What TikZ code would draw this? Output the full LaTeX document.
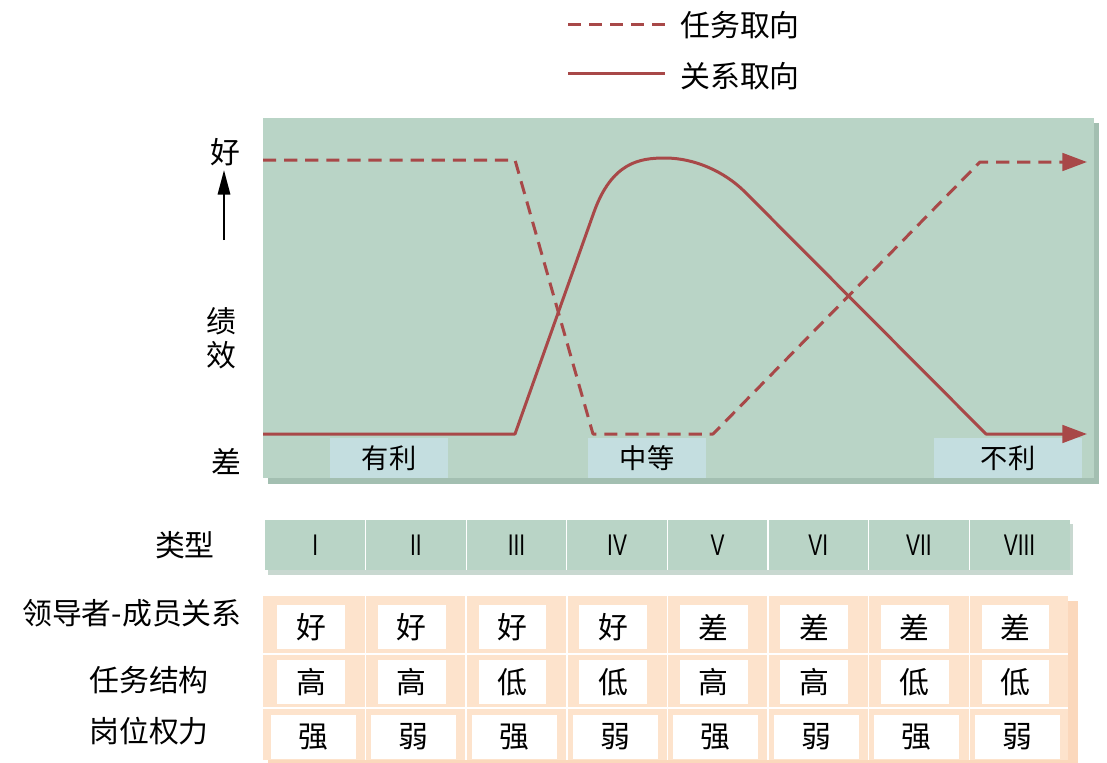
\documentclass[tikz,border=0pt]{standalone}
\usepackage{fontspec}
\setmainfont{Noto Sans CJK SC}
\newfontfamily\romfont[FakeStretch=0.7]{Liberation Sans}
\usetikzlibrary{arrows.meta}

\definecolor{chartgreen}{HTML}{B9D4C6}
\definecolor{chartshade}{HTML}{A3BFB1}
\definecolor{zoneblue}{HTML}{C4DEE0}
\definecolor{curve}{HTML}{A84848}
\definecolor{peach}{HTML}{FDE3CC}
\definecolor{peachshade}{HTML}{FBD8BC}

\begin{document}
\begin{tikzpicture}[x=0.02cm,y=-0.02cm,
  perf/.style={line width=1.7pt,draw=curve,line join=round},
  task/.style={perf,dash pattern=on 7.5pt off 4.5pt},
  tip/.style={-{Triangle[length=14pt,width=10pt]}},
  zone/.style={fill=zoneblue,inner sep=0pt,minimum width=#1,minimum height=0.8cm,font=\fontsize{15.5}{15.5}\selectfont},
  axislabel/.style={font=\fontsize{17}{17}\selectfont,inner sep=0pt},
  typecell/.style={fill=chartgreen,minimum width=2.012cm,minimum height=1cm,inner sep=0pt,font=\romfont\fontsize{17}{17}\selectfont},
  valbox/.style={fill=white,inner sep=0pt,minimum width=#1,minimum height=0.88cm,font=\fontsize{17}{17}\selectfont}]
  \useasboundingbox (0,0) rectangle (1107,762);

  % legend
  \coordinate (la) at (568,24);
  \coordinate (lb) at (665,24);
  \coordinate (lc) at (568,73);
  \coordinate (ld) at (665,73);
  \node[axislabel,anchor=west] (legtask) at (680,25) {任务取向};
  \node[axislabel,anchor=west] (legrel) at (680,76) {关系取向};
  \draw[task] (la) -- (lb);
  \draw[perf] (lc) -- (ld);

  % chart area
  \fill[chartshade] (268,123) rectangle (1099,484);
  \fill[chartgreen] (263,118) rectangle (1094,478);
  \node[zone=2.36cm] (fav) at (389,458) {有利};
  \node[zone=2.38cm] (mid) at (647,458) {中等};
  \node[zone=2.96cm] (unfav) at (1008,458) {不利};

  % axis
  \node[axislabel] (good) at (225,152) {好};
  \node[axislabel] (ji) at (221,321) {绩};
  \node[axislabel] (xiao) at (221,355) {效};
  \node[axislabel] (bad) at (226,461) {差};
  \coordinate (ax0) at (224,240);
  \coordinate (ax1) at (224,170);
  \draw[line width=1.3pt,-{Triangle[length=14pt,width=7pt]}] (ax0) -- (ax1);

  % task orientation
  \coordinate (t0) at (263,160);
  \coordinate (t1) at (515,160);
  \coordinate (t2) at (593,434);
  \coordinate (t3) at (713,434);
  \coordinate (t4) at (980,162);
  \coordinate (t5) at (1087,162);
  \draw[task,tip] (t0) -- (t1) -- (t2) -- (t3) -- (t4) -- (t5);

  % relationship orientation
  \coordinate (r0) at (263,434);
  \coordinate (r1) at (515,434);
  \coordinate (r2) at (594,212);
  \coordinate (r3) at (665,158);
  \coordinate (r4) at (745,192);
  \coordinate (r5) at (986,434);
  \coordinate (r6) at (1087,434);
  \draw[perf,tip] (r0) -- (r1) -- (r2)
    .. controls (612,162) and (640,158) .. (r3)
    .. controls (695,158) and (725,172) .. (r4) -- (r5) -- (r6);

  % types
  \node[axislabel] (typelabel) at (185,545) {类型};
  \fill[chartshade!60] (268,524) rectangle (1073,575);
  \foreach \i/\r in {1/I,2/II,3/III,4/IV,5/V,6/VI,7/VII,8/VIII}
    \node[typecell] (type\i) at ({265+100.6*(\i-0.5)},545) {\r};
  \foreach \k in {1,...,7}
    \draw[white,line width=0.6pt] ({265+100.6*\k},520) -- ({265+100.6*\k},570);

  % conditions
  \node[axislabel,anchor=east] (lmlabel) at (242,613) {领导者-成员关系};
  \node[axislabel] (tslabel) at (149,680) {任务结构};
  \node[axislabel] (pplabel) at (149,731) {岗位权力};
  \fill[peachshade] (268,601) rectangle (1078,766);
  \fill[peach] (263,596) rectangle (1068,760);
  \foreach \k in {1,...,7}
    \draw[white,line width=0.8pt] ({265+100.6*\k},596) -- ({265+100.6*\k},760);
  \draw[white,line width=0.8pt] (263,654) -- (1068,654);
  \draw[white,line width=0.8pt] (263,708) -- (1068,708);
  \foreach \i/\a/\b/\c in {1/好/高/强,2/好/高/弱,3/好/低/强,4/好/低/弱,5/差/高/强,6/差/高/弱,7/差/低/强,8/差/低/弱} {
    \node[valbox=1.36cm] (lm\i) at ({261+100.6*(\i-0.5)},627) {\a};
    \node[valbox=1.36cm] (ts\i) at ({261+100.6*(\i-0.5)},682) {\b};
    \node[valbox=1.7cm] (pp\i) at ({263+100.6*(\i-0.5)},737) {\c};
  }
\end{tikzpicture}
\end{document}
